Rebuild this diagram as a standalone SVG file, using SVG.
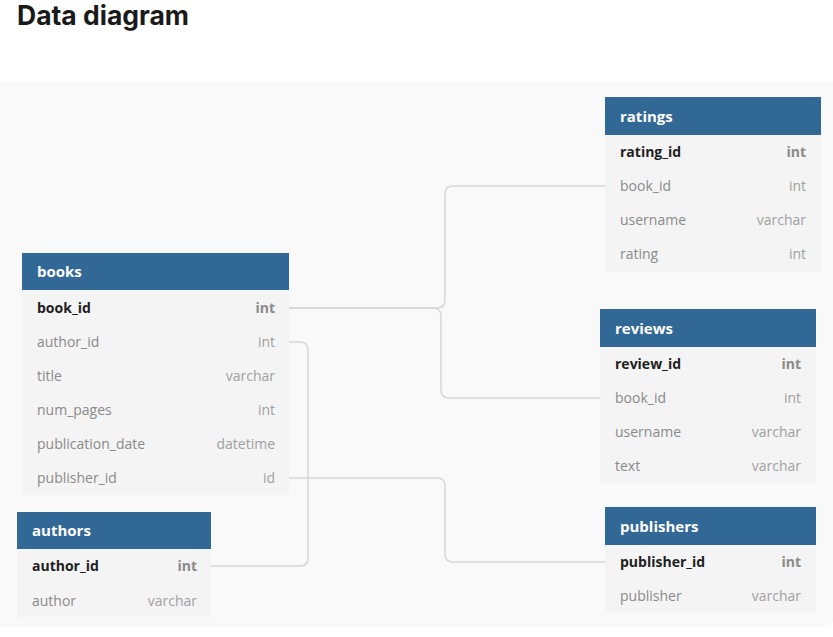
<svg xmlns="http://www.w3.org/2000/svg" width="833" height="637" viewBox="0 0 833 637">
<style>
.title{font-family:Inter,"Liberation Sans",sans-serif;font-weight:700;font-size:26.5px;fill:#1a1a1a}
.hdr{fill:#316896}
.body{fill:#f4f4f4}
.hname{font-family:"Open Sans","Noto Sans",sans-serif;font-weight:700;font-size:15px;fill:#ffffff}
.f{font-family:"Open Sans","Noto Sans",sans-serif;font-size:14px;fill:#8a8a8a}
.t{font-family:"Open Sans","Noto Sans",sans-serif;font-size:14px;fill:#a0a0a0;text-anchor:end}
.pk{fill:#1e1e1e;font-weight:700}
.pkt{fill:#8a8a8a;font-weight:700}
.conn{fill:none;stroke:#d6d6d6;stroke-width:1.5}
</style>
<rect width="833" height="637" fill="#ffffff"/>
<text class="title" x="17" y="25">Data diagram</text>
<path d="M0 82 H833 V619 Q833 627 825 627 H0 Z" fill="#f9f9f9"/>

<g id="connectors">
<path class="conn" d="M289 308 H437 Q445 308 445 300 V194 Q445 186 453 186 H605"/>
<path class="conn" d="M289 308 H433 Q441 308 441 316 V390 Q441 398 449 398 H600"/>
<path class="conn" d="M289 342 H300 Q308 342 308 350 V558 Q308 566 300 566 H211"/>
<path class="conn" d="M289 478 H437 Q445 478 445 486 V554 Q445 562 453 562 H605"/>
</g>

<g id="books">
<rect class="body" x="22" y="290" width="267" height="205"/>
<rect class="hdr" x="22" y="253" width="267" height="37"/>
<text class="hname" x="37" y="277">books</text>
<text class="f pk" x="37" y="313">book_id</text><text class="t pkt" x="275" y="313">int</text>
<text class="f" x="37" y="347">author_id</text><text class="t" x="275" y="347">int</text>
<text class="f" x="37" y="381">title</text><text class="t" x="275" y="381">varchar</text>
<text class="f" x="37" y="415">num_pages</text><text class="t" x="275" y="415">int</text>
<text class="f" x="37" y="449">publication_date</text><text class="t" x="275" y="449">datetime</text>
<text class="f" x="37" y="483">publisher_id</text><text class="t" x="275" y="483">id</text>
</g>

<g id="authors">
<rect class="body" x="17" y="549" width="194" height="68"/>
<rect class="hdr" x="17" y="512" width="194" height="37"/>
<text class="hname" x="32" y="536">authors</text>
<text class="f pk" x="32" y="571">author_id</text><text class="t pkt" x="197" y="571">int</text>
<text class="f" x="32" y="606">author</text><text class="t" x="197" y="606">varchar</text>
</g>

<g id="ratings">
<rect class="body" x="605" y="135" width="216" height="137"/>
<rect class="hdr" x="605" y="97" width="216" height="38"/>
<text class="hname" x="620" y="122">ratings</text>
<text class="f pk" x="620" y="157">rating_id</text><text class="t pkt" x="806" y="157">int</text>
<text class="f" x="620" y="191">book_id</text><text class="t" x="806" y="191">int</text>
<text class="f" x="620" y="225">username</text><text class="t" x="806" y="225">varchar</text>
<text class="f" x="620" y="259">rating</text><text class="t" x="806" y="259">int</text>
</g>

<g id="reviews">
<rect class="body" x="600" y="347" width="216" height="136"/>
<rect class="hdr" x="600" y="309" width="216" height="38"/>
<text class="hname" x="615" y="334">reviews</text>
<text class="f pk" x="615" y="369">review_id</text><text class="t pkt" x="801" y="369">int</text>
<text class="f" x="615" y="403">book_id</text><text class="t" x="801" y="403">int</text>
<text class="f" x="615" y="437">username</text><text class="t" x="801" y="437">varchar</text>
<text class="f" x="615" y="471">text</text><text class="t" x="801" y="471">varchar</text>
</g>

<g id="publishers">
<rect class="body" x="605" y="545" width="211" height="68"/>
<rect class="hdr" x="605" y="507" width="211" height="38"/>
<text class="hname" x="620" y="532">publishers</text>
<text class="f pk" x="620" y="567">publisher_id</text><text class="t pkt" x="801" y="567">int</text>
<text class="f" x="620" y="601">publisher</text><text class="t" x="801" y="601">varchar</text>
</g>
</svg>
